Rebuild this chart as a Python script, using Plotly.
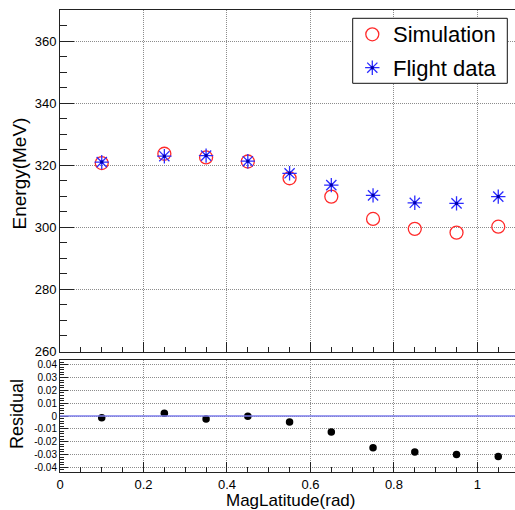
import plotly.graph_objects as go
from plotly.subplots import make_subplots

# Mean energy versus magnetic latitude
mag_lat = [0.10, 0.25, 0.35, 0.45, 0.55, 0.65, 0.75, 0.85, 0.95, 1.05]
simulation = [320.7, 323.7, 322.5, 321.2, 315.8, 309.9, 302.7, 299.5, 298.3, 300.2]
flight = [321.0, 322.9, 323.1, 321.3, 317.4, 313.6, 310.3, 307.9, 307.7, 309.9]
# (simulation - flight) / flight
residual = [-0.0013, 0.0022, -0.0023, -0.0002, -0.0047, -0.0125, -0.0248, -0.0281, -0.0300, -0.0316]

series_names = ["Simulation", "Flight data"]
x_tickvals = [0, 0.2, 0.4, 0.6, 0.8, 1.0]
x_ticktext = ["0", "0.2", "0.4", "0.6", "0.8", "1"]
res_tickvals = [0.04, 0.03, 0.02, 0.01, 0, -0.01, -0.02, -0.03, -0.04]
res_ticktext = ["0.04", "0.03", "0.02", "0.01", "0", "-0.01", "-0.02", "-0.03", "-0.04"]

W, H = 515, 510
L, R, T, B = 60, 0, 10, 38
PW, PH = W - L - R, H - T - B
TOP_BOTTOM_PX = 351.5          # lower edge of the energy panel
RES_TOP_PX = 360               # upper edge of the residual panel

X_RANGE = [0, PW / 417.4]
E_RANGE = [260, 370]
R_RANGE = [-0.0436, 0.0436]


def px_x(px):
    return (px - L) / PW


def px_y(py):
    return (H - B - py) / PH


def data_x(px):
    return X_RANGE[0] + (px - L) / PW * (X_RANGE[1] - X_RANGE[0])


def energy_y(py):
    return E_RANGE[1] - (py - T) / (TOP_BOTTOM_PX - T) * (E_RANGE[1] - E_RANGE[0])


FONT = "Liberation Sans, Arial, Helvetica, sans-serif"
GRID = "#8c8c8c"
AX = "#222222"
RED = "#ff2a2a"
BLUE = "#2b2bff"

sim_marker = dict(symbol="circle-open", size=13, color=RED, line=dict(width=1.3, color=RED))
flight_marker = dict(symbol="asterisk-open", size=12, color=BLUE, line=dict(width=1.3, color=BLUE))
centre_marker = dict(symbol="square", size=3, color="#0000aa")

fig = make_subplots(rows=2, cols=1, shared_xaxes=False, vertical_spacing=0)

fig.add_trace(go.Scatter(x=mag_lat, y=simulation, mode="markers", name=series_names[0],
                         marker=sim_marker, showlegend=False), row=1, col=1)
fig.add_trace(go.Scatter(x=mag_lat, y=flight, mode="markers", name=series_names[1],
                         marker=flight_marker, showlegend=False), row=1, col=1)
fig.add_trace(go.Scatter(x=mag_lat, y=flight, mode="markers", showlegend=False,
                         hoverinfo="skip", marker=centre_marker), row=1, col=1)
fig.add_trace(go.Scatter(x=mag_lat, y=residual, mode="markers", showlegend=False,
                         marker=dict(symbol="circle", size=7.5, color="black")), row=2, col=1)

# Legend box: white panel over the grid, symbols and labels
box_x0, box_x1, box_y0, box_y1 = 352.7, 507.3, 18.3, 83.3
fig.add_shape(type="rect", xref="x", yref="y",
              x0=data_x(box_x0), x1=data_x(box_x1), y0=energy_y(box_y0), y1=energy_y(box_y1),
              fillcolor="white", line=dict(color="#111111", width=1), layer="between")
entry_rows = [34.3, 67.7]
sym_x = data_x(372.3)
fig.add_trace(go.Scatter(x=[sym_x], y=[energy_y(entry_rows[0])], mode="markers",
                         marker=sim_marker, showlegend=False, hoverinfo="skip"), row=1, col=1)
fig.add_trace(go.Scatter(x=[sym_x], y=[energy_y(entry_rows[1])], mode="markers",
                         marker=flight_marker, showlegend=False, hoverinfo="skip"), row=1, col=1)
fig.add_trace(go.Scatter(x=[sym_x], y=[energy_y(entry_rows[1])], mode="markers",
                         marker=centre_marker, showlegend=False, hoverinfo="skip"), row=1, col=1)
for name, row_py in zip(series_names, entry_rows):
    fig.add_annotation(text=name, xref="paper", yref="paper", x=px_x(390.5), y=px_y(row_py + 0.5),
                       xanchor="left", yanchor="middle", showarrow=False,
                       font=dict(family=FONT, size=22, color="black"))

common_x = dict(
    range=X_RANGE, tickvals=x_tickvals, ticks="inside", ticklen=10, tickcolor=AX,
    showline=True, linecolor=AX, linewidth=1, mirror=True,
    showgrid=True, gridcolor=GRID, griddash="1px,1px", gridwidth=1, zeroline=False,
    minor=dict(dtick=0.05, tick0=0, ticks="inside", ticklen=5, tickcolor=AX, showgrid=False),
)

fig.update_xaxes(**common_x, showticklabels=False, row=1, col=1)
fig.update_xaxes(**common_x, showticklabels=True, ticktext=x_ticktext,
                 tickfont=dict(family=FONT, size=13, color="black"), row=2, col=1)

fig.update_yaxes(
    range=E_RANGE, dtick=20, tick0=260, ticks="inside", ticklen=14, tickcolor=AX,
    showline=True, linecolor=AX, linewidth=1, mirror=False,
    showgrid=True, gridcolor=GRID, griddash="1px,1px", gridwidth=1, zeroline=False,
    tickfont=dict(family=FONT, size=13, color="black"),
    minor=dict(dtick=5, tick0=260, ticks="inside", ticklen=7, tickcolor=AX, showgrid=False),
    domain=[px_y(TOP_BOTTOM_PX), 1], row=1, col=1,
)
fig.update_yaxes(
    range=R_RANGE, tickvals=res_tickvals, ticktext=res_ticktext,
    ticks="inside", ticklen=8, tickcolor=AX,
    showline=True, linecolor=AX, linewidth=1, mirror=False,
    showgrid=True, gridcolor=GRID, griddash="1px,1px", gridwidth=1, zeroline=False,
    tickfont=dict(family=FONT, size=10, color="black"),
    minor=dict(dtick=0.002, tick0=0, ticks="inside", ticklen=4, tickcolor=AX, showgrid=False),
    domain=[0, px_y(RES_TOP_PX)], row=2, col=1,
)

# zero reference line of the residual panel
fig.add_shape(type="line", xref="x2", yref="y2", x0=X_RANGE[0], x1=X_RANGE[1], y0=0, y1=0,
              line=dict(color="rgb(125,125,235)", width=1.6), layer="above")

fig.add_annotation(text="Energy(MeV)", textangle=-90, xref="paper", yref="paper",
                   x=px_x(18.5), y=px_y(174), xanchor="center", yanchor="middle",
                   showarrow=False, font=dict(family=FONT, size=19, color="black"))
fig.add_annotation(text="Residual", textangle=-90, xref="paper", yref="paper",
                   x=px_x(17), y=px_y(414), xanchor="center", yanchor="middle",
                   showarrow=False, font=dict(family=FONT, size=18, color="black"))
fig.add_annotation(text="MagLatitude(rad)", xref="paper", yref="paper",
                   x=px_x(290), y=px_y(500.5), xanchor="center", yanchor="middle",
                   showarrow=False, font=dict(family=FONT, size=17, color="black"))

fig.update_layout(
    width=W, height=H,
    margin=dict(l=L, r=R, t=T, b=B),
    paper_bgcolor="white", plot_bgcolor="white",
    font=dict(family=FONT, color="black"),
    showlegend=False,
)

fig.write_html("out.html")
